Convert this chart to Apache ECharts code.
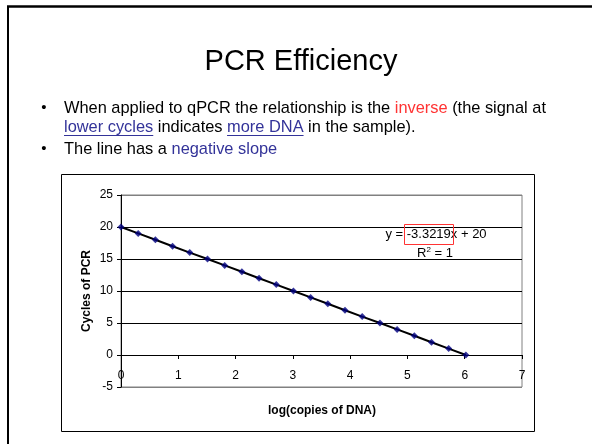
<!DOCTYPE html>
<html>
<head>
<meta charset="utf-8">
<script src="https://cdn.jsdelivr.net/npm/echarts@6/dist/echarts.min.js"></script>
<style>
  html, body { margin: 0; padding: 0; background: #fff; }
  #chart { width: 592px; height: 444px; }
</style>
</head>
<body>
<div id="chart"></div>
<script>
// log(copies of DNA) for each two-fold step
const logCopies = [0, 0.30, 0.60, 0.90, 1.20, 1.51, 1.81, 2.11, 2.41, 2.71, 3.01,
  3.31, 3.61, 3.91, 4.21, 4.52, 4.82, 5.12, 5.42, 5.72, 6.02];
// cycles of PCR
const cycles = [20, 19, 18, 17, 16, 15, 14, 13, 12, 11, 10, 9, 8, 7, 6, 5, 4, 3, 2, 1, 0];
const xTicks = [0, 7, 1];
const yTicks = [-5, 25, 5];
const equation = "y = -3.3219x + 20";

const FONT = "'Liberation Sans', Arial, sans-serif";
const BLUE = "#333399";
const RED = "#ff3333";
const BODY = "16.4px " + FONT;

const points = logCopies.map((x, i) => [x, cycles[i]]);

// measure text to place the link underlines
const ctx = document.createElement("canvas").getContext("2d");
ctx.font = BODY;
function w(s) { return ctx.measureText(s).width; }

const textX = 64;
const line1Y = 108, line2Y = 127, line3Y = 149;

const seg2a = "lower cycles", seg2b = " indicates ", seg2c = "more DNA";
const ul1x = textX, ul1w = w(seg2a);
const ul2x = textX + w(seg2a + seg2b), ul2w = w(seg2c);

// grid geometry
const gridTop = 195, gridH = 192;
// x axis sits on y = 0
const xAxisOffset = -gridH * (0 - yTicks[0]) / (yTicks[1] - yTicks[0]);

const graphics = [
  // slide frame
  { type: "line", shape: { x1: 7, y1: 6.5, x2: 592, y2: 6.5 }, style: { stroke: "#000", lineWidth: 2.5 } },
  { type: "line", shape: { x1: 8, y1: 6, x2: 8, y2: 444 }, style: { stroke: "#000", lineWidth: 2 } },
  // slide title
  { type: "text", x: 301, y: 62, style: { text: "PCR Efficiency", font: "29px " + FONT, fill: "#000", align: "center", verticalAlign: "middle" } },
  // bullets
  { type: "text", x: 44, y: line1Y, style: { text: "•", font: "15px " + FONT, fill: "#000", align: "center", verticalAlign: "middle" } },
  { type: "text", x: 44, y: line3Y, style: { text: "•", font: "15px " + FONT, fill: "#000", align: "center", verticalAlign: "middle" } },
  {
    type: "text", x: textX, y: line1Y,
    style: {
      text: "When applied to qPCR the relationship is the {r|inverse} (the signal at",
      font: BODY, fill: "#000", verticalAlign: "middle",
      rich: { r: { fill: RED, font: BODY } }
    }
  },
  {
    type: "text", x: textX, y: line2Y,
    style: {
      text: "{b|" + seg2a + "}" + seg2b + "{b|" + seg2c + "} in the sample).",
      font: BODY, fill: "#000", verticalAlign: "middle",
      rich: { b: { fill: BLUE, font: BODY } }
    }
  },
  { type: "line", shape: { x1: ul1x, y1: line2Y + 8.5, x2: ul1x + ul1w, y2: line2Y + 8.5 }, style: { stroke: BLUE, lineWidth: 1 } },
  { type: "line", shape: { x1: ul2x, y1: line2Y + 8.5, x2: ul2x + ul2w, y2: line2Y + 8.5 }, style: { stroke: BLUE, lineWidth: 1 } },
  {
    type: "text", x: textX, y: line3Y,
    style: {
      text: "The line has a {b|negative slope}",
      font: BODY, fill: "#000", verticalAlign: "middle",
      rich: { b: { fill: BLUE, font: BODY } }
    }
  },
  // chart area border
  { type: "rect", shape: { x: 61.5, y: 174.5, width: 473, height: 257 }, style: { fill: null, stroke: "#000", lineWidth: 1 }, z: 0 },
  // x axis title
  { type: "text", x: 322, y: 411, style: { text: "log(copies of DNA)", font: "bold 12px " + FONT, fill: "#000", align: "center", verticalAlign: "middle" }, z: 20 },
  // trendline label
  { type: "text", x: 436, y: 234, style: { text: equation, font: "13px " + FONT, fill: "#000", align: "center", verticalAlign: "middle" }, z: 20 },
  {
    type: "text", x: 435, y: 253,
    style: {
      text: "R{s|2} = 1", font: "13px " + FONT, fill: "#000", align: "center", verticalAlign: "middle",
      rich: { s: { font: "8px " + FONT, fill: "#000", verticalAlign: "top", padding: [0, 0, 6, 0] } }
    }, z: 20
  },
  { type: "rect", shape: { x: 404.5, y: 224.5, width: 49, height: 20 }, style: { fill: null, stroke: RED, lineWidth: 1 }, z: 20 }
];

const option = {
  animation: false,
  backgroundColor: "#fff",
  textStyle: { fontFamily: FONT },
  grid: {
    left: 121, top: gridTop, width: 401, height: gridH,
    show: true, borderColor: "#808080", borderWidth: 1, backgroundColor: "#fff"
  },
  xAxis: {
    type: "value",
    min: xTicks[0], max: xTicks[1], interval: xTicks[2],
    position: "bottom",
    offset: xAxisOffset,
    axisLine: { onZero: false, lineStyle: { color: "#000", width: 1 } },
    axisTick: { show: true, length: 4, lineStyle: { color: "#000" } },
    axisLabel: { color: "#000", fontSize: 12, fontFamily: FONT, margin: 15 },
    splitLine: { show: false }
  },
  yAxis: {
    type: "value",
    min: yTicks[0], max: yTicks[1], interval: yTicks[2],
    name: "Cycles of PCR",
    nameLocation: "middle",
    nameGap: 28,
    nameRotate: 90,
    nameMoveOverlap: false,
    nameTextStyle: { fontFamily: FONT, fontSize: 12, fontWeight: "bold", color: "#000" },
    axisLine: { show: true, onZero: false, lineStyle: { color: "#000", width: 1 } },
    axisTick: { show: true, length: 4, lineStyle: { color: "#000" } },
    axisLabel: { color: "#000", fontSize: 12, fontFamily: FONT, margin: 8 },
    splitLine: {
      show: true,
      lineStyle: { color: ["#808080", "#000", "#000", "#000", "#000", "#000", "#808080"], width: 1 }
    }
  },
  series: [
    {
      name: "trend",
      type: "line",
      data: points,
      showSymbol: false,
      symbol: "none",
      lineStyle: { color: "#000", width: 2 },
      z: 3
    },
    {
      name: "cycles",
      type: "scatter",
      data: points,
      symbol: "diamond",
      symbolSize: 7,
      itemStyle: { color: "#000080" },
      z: 4
    }
  ],
  graphic: graphics
};

const myChart = echarts.init(document.getElementById("chart"));
myChart.setOption(option);
</script>
</body>
</html>
